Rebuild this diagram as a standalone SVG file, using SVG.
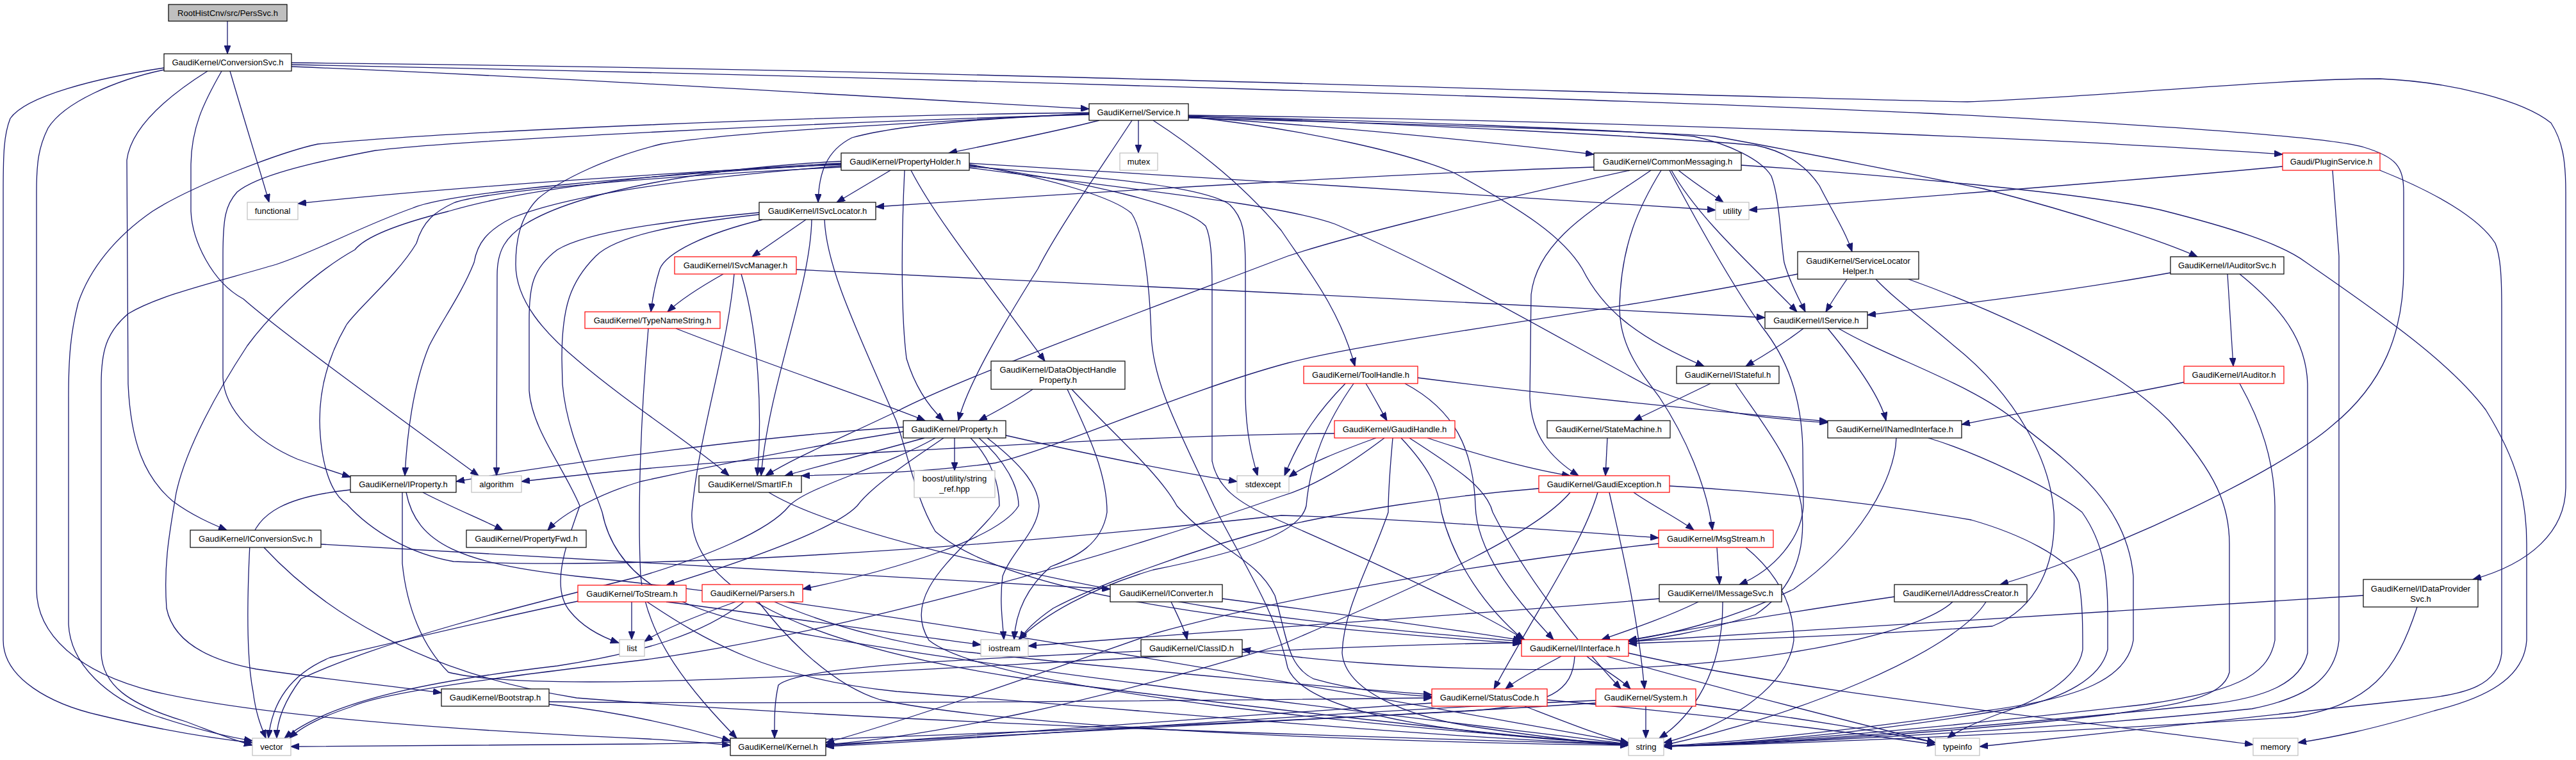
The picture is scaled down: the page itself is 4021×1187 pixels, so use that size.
<svg xmlns="http://www.w3.org/2000/svg" width="4021" height="1187" viewBox="0 0 4021 1187">
<style>
.n rect{fill:#fff;stroke:#000;stroke-width:1.2}
.n.r rect{stroke:#ff0000}
.n.g rect{stroke:#bfbfbf}
.n.root rect{fill:#bfbfbf}
text{font-family:"Liberation Sans",Arial,Helvetica,sans-serif;font-size:13px;text-anchor:middle;fill:#000}
#edges path{fill:none;stroke:#191970;stroke-width:1.3;marker-end:url(#ah)}
</style>
<defs>
<marker id="ah" markerUnits="userSpaceOnUse" markerWidth="14" markerHeight="10" refX="13" refY="5" orient="auto"><path d="M0,0 L13,5 L0,10 z" fill="#191970" stroke="#191970" stroke-width="1"/></marker>
</defs>
<rect width="4021" height="1187" fill="#fff"/>
<g id="edges">
<path d="M355,33 L355,84"/>
<path d="M455,104 C900,122 1300,148 1700,170"/>
<path d="M455,101 C1500,122 2600,158 3010,177 C3400,197 3640,215 3690,230 C3740,245 3752,260 3752,300 L3752,420 C3752,520 3720,600 3640,665 C3560,735 3300,860 3122,913"/>
<path d="M455,98 C1500,108 2600,150 3071,159 C3300,150 3550,123 3715,123 C3830,128 3940,158 3982,192 C4000,220 4005,250 4005,300 L4005,760 C4005,830 3950,880 3860,905"/>
<path d="M256,106 C150,122 40,150 16,185 C6,210 5,240 5,300 L5,1000 C5,1060 80,1100 155,1117 C250,1140 320,1152 394,1160"/>
<path d="M256,109 C180,125 100,160 75,200 C60,230 57,255 57,300 L57,920 C57,990 120,1050 240,1080 C400,1118 700,1140 1010,1154 C1060,1157 1100,1160 1140,1164"/>
<path d="M324,111 C270,145 205,195 198,250 L200,600 C204,690 225,745 270,783 C300,805 330,818 354,828"/>
<path d="M346,111 C318,160 298,200 298,260 L298,330 C300,375 330,440 380,467 C440,520 620,650 747,743"/>
<path d="M359,111 C385,200 410,280 420,316"/>
<path d="M1716,188 C1650,205 1550,225 1481,239"/>
<path d="M1777,188 L1777,239"/>
<path d="M1855,183 C2100,198 2350,225 2488,241"/>
<path d="M1855,180 C2500,188 3200,215 3563,241"/>
<path d="M1700,178 C1550,184 1400,195 1330,215 C1290,235 1278,270 1277,316"/>
<path d="M1855,181 C2200,194 2600,214 2741,227 C2790,237 2820,260 2840,290 C2860,330 2880,360 2891,393"/>
<path d="M1855,184 C2200,194 2550,204 2676,213 C2770,230 2900,255 3097,295 C3250,335 3380,378 3430,401"/>
<path d="M1855,182 C2200,189 2550,204 2644,213 C2700,225 2750,250 2765,275 C2778,310 2779,370 2785,410 C2795,445 2810,470 2818,487"/>
<path d="M1855,182 C2050,204 2200,240 2270,270 C2380,330 2440,370 2470,420 C2500,480 2550,525 2660,572"/>
<path d="M1800,188 C1880,240 1950,300 2000,360 C2040,420 2090,480 2115,572"/>
<path d="M1767,188 C1720,260 1650,360 1620,420 C1570,500 1510,600 1496,657"/>
<path d="M1700,177 C1400,194 1150,205 1032,225 C950,245 876,280 840,310 C810,340 805,380 805,413 C805,470 850,520 902,563 C980,630 1090,700 1138,743"/>
<path d="M1700,179 C1300,190 700,220 586,235 C480,255 400,275 370,300 C352,320 348,340 348,400 L348,590 C350,640 400,690 464,717 C500,730 525,738 547,745"/>
<path d="M1700,176 C1300,180 700,205 496,225 C440,237 300,290 238,330 C180,370 140,420 122,473 C110,520 107,560 107,620 L107,975 C110,1040 170,1090 240,1117 C300,1137 350,1150 394,1157"/>
<path d="M1390,266 L1306,316"/>
<path d="M1313,257 C1100,266 700,292 465,318"/>
<path d="M1513,255 C1800,270 2400,312 2678,328"/>
<path d="M1422,266 C1460,340 1540,440 1631,564"/>
<path d="M1412,266 C1408,350 1405,480 1415,560 C1430,610 1455,640 1473,657"/>
<path d="M1513,260 C1700,275 1880,290 1920,320 C1940,340 1944,360 1944,420 L1944,620 C1945,680 1955,715 1963,743"/>
<path d="M1513,262 C1800,300 2000,320 2084,350 C2250,420 2400,510 2580,607 C2680,650 2780,655 2853,660"/>
<path d="M1513,257 C1650,280 1740,310 1766,333 C1785,360 1795,450 1797,523 C1800,600 1840,670 1895,790 C1940,880 1990,950 2010,1043 C2040,1120 2300,1150 2542,1162"/>
<path d="M1513,258 C1700,285 1850,320 1882,353 C1890,370 1892,400 1892,450 L1892,720 C1900,760 1930,785 1990,810 C2150,880 2300,950 2380,999"/>
<path d="M1313,252 C1100,262 900,300 820,350 C790,370 776,390 776,430 L775,743"/>
<path d="M1313,256 C1000,275 700,300 644,325 C560,355 500,390 431,413 C340,440 250,460 200,490 C165,520 158,550 158,600 L158,1020 C160,1070 200,1100 290,1127 C330,1142 360,1155 394,1164"/>
<path d="M1313,259 C1100,276 900,300 800,340 C760,360 745,380 740,410 C720,460 690,500 670,540 C645,600 635,680 632,743"/>
<path d="M1313,255 C1000,270 800,300 700,330 C620,350 570,370 554,390 C500,420 430,480 386,540 C340,610 290,700 275,770 C265,830 255,880 260,950 C270,1000 320,1030 400,1045 C500,1060 600,1070 689,1082"/>
<path d="M1313,261 C1000,277 750,300 708,317 C680,330 660,345 650,380 C620,430 560,480 541,507 C510,560 499,610 499,657 C500,720 515,770 541,787 C580,830 640,865 708,877 C1000,890 1500,860 2000,805 C2200,810 2450,830 2589,840"/>
<path d="M2488,261 C2200,270 1700,300 1367,323"/>
<path d="M2620,266 C2650,290 2675,305 2690,316"/>
<path d="M2577,266 C2500,320 2400,370 2390,460 L2388,620 C2390,680 2420,715 2464,743"/>
<path d="M2593,266 C2560,320 2530,380 2528,480 C2528,540 2560,580 2590,620 C2630,680 2665,760 2673,828"/>
<path d="M2606,266 C2640,330 2700,440 2750,510 C2790,560 2812,620 2814,700 L2815,790 C2812,840 2770,890 2715,913"/>
<path d="M2609,266 C2650,340 2740,420 2805,487"/>
<path d="M2544,266 C2300,320 2100,370 2010,400 C1800,480 1500,590 1399,643 C1300,690 1240,715 1195,743"/>
<path d="M2718,258 C2900,270 3250,300 3373,328 C3480,355 3560,380 3600,410 C3700,480 3820,560 3880,640 C3930,720 3944,780 3944,850 L3944,1000 C3940,1060 3880,1090 3800,1110 C3700,1140 3640,1152 3587,1160"/>
<path d="M3563,260 C3300,285 2900,315 2730,328"/>
<path d="M3641,266 L3651,400 L3651,1000 C3645,1060 3600,1090 3515,1107 C3200,1140 2800,1160 2597,1166"/>
<path d="M3715,266 C3800,300 3870,340 3895,380 C3903,400 3905,430 3905,480 L3905,1020 C3900,1070 3850,1085 3773,1092 C3500,1120 3250,1150 3090,1166"/>
<path d="M1258,343 L1174,401"/>
<path d="M1190,343 C1100,365 1040,395 1030,420 C1022,445 1018,470 1016,487"/>
<path d="M1267,343 C1265,450 1200,600 1188,743"/>
<path d="M1185,332 C1050,345 920,360 870,390 C830,420 826,450 826,500 L826,610 C830,670 880,730 905,790 C880,860 860,920 890,955 C910,980 940,995 966,1004"/>
<path d="M1185,335 C1050,350 960,370 930,400 C890,440 877,480 877,560 L878,600 C885,680 920,740 940,800 C960,900 1050,950 1200,980 C1500,1040 2200,1120 2542,1162"/>
<path d="M1287,343 C1290,420 1340,520 1399,657 C1420,720 1430,780 1460,830 C1600,950 2100,985 2375,1005"/>
<path d="M1129,428 C1090,450 1060,470 1042,487"/>
<path d="M1157,428 C1185,520 1190,650 1182,743"/>
<path d="M1243,421 C1700,445 2300,470 2755,496"/>
<path d="M1146,428 C1135,550 1090,680 1080,800 C1075,900 1200,1000 1600,1060 C2000,1110 2350,1150 2542,1164"/>
<path d="M1055,513 C1200,570 1380,630 1444,657"/>
<path d="M1012,513 C1000,650 995,800 1000,900 C1010,1000 1080,1080 1150,1153"/>
<path d="M2883,436 C2870,455 2860,470 2850,487"/>
<path d="M2806,428 C2500,490 2150,530 2010,567 C1850,610 1650,700 1554,723 C1450,738 1320,741 1251,743"/>
<path d="M2928,436 C2960,470 3000,497 3050,540 C3150,620 3200,720 3206,800 C3210,880 3180,950 3110,978 C2950,990 2700,1000 2542,1005"/>
<path d="M2979,436 C3100,480 3290,560 3386,657 C3460,740 3480,790 3480,850 L3480,1050 C3470,1090 3400,1100 3300,1115 C3100,1140 2800,1160 2597,1166"/>
<path d="M3388,426 C3200,460 3000,482 2915,492"/>
<path d="M3477,428 L3486,572"/>
<path d="M3496,428 C3560,480 3600,530 3602,600 L3602,1020 C3590,1070 3530,1090 3450,1100 C3100,1135 2800,1160 2597,1166"/>
<path d="M2815,513 C2780,540 2745,560 2725,572"/>
<path d="M2853,513 C2900,570 2935,620 2944,657"/>
<path d="M2870,513 C2950,560 3080,600 3150,660 C3240,730 3320,790 3330,900 L3330,1000 C3320,1060 3250,1090 3100,1110 C2900,1140 2700,1160 2597,1165"/>
<path d="M2670,599 L2550,657"/>
<path d="M2709,599 C2750,660 2800,720 2812,790 C2820,860 2800,920 2740,960 C2650,990 2580,998 2542,1002"/>
<path d="M2509,684 L2506,743"/>
<path d="M2960,684 C2958,750 2900,850 2800,920 C2700,970 2600,992 2542,1000"/>
<path d="M3010,684 C3080,705 3200,760 3250,800 C3285,850 3290,900 3290,960 L3290,1014 C3280,1060 3220,1090 3150,1105 C2950,1140 2750,1160 2597,1166"/>
<path d="M3409,597 C3300,620 3150,645 3062,663"/>
<path d="M3496,599 C3530,660 3550,720 3551,790 L3551,1000 C3540,1060 3480,1080 3350,1100 C3000,1140 2750,1160 2597,1166"/>
<path d="M2132,599 C2145,620 2155,640 2165,657"/>
<path d="M2213,590 C2450,620 2700,645 2853,658"/>
<path d="M2100,599 C2060,640 2030,680 2005,743"/>
<path d="M2113,599 C2070,660 2045,720 2039,790 C2030,830 1950,860 1800,890 C1700,920 1630,960 1590,999"/>
<path d="M2193,599 C2270,640 2300,700 2303,790 C2305,860 2360,930 2425,999"/>
<path d="M2083,677 C1800,680 1500,700 1400,705 C1200,715 1000,730 814,752"/>
<path d="M2148,684 C2090,705 2040,725 2012,745"/>
<path d="M2228,684 C2320,715 2400,735 2451,743"/>
<path d="M2161,684 C2100,730 2050,760 2000,775 C1700,880 1300,990 1010,1030 C800,1055 600,1080 548,1104 C500,1120 470,1135 452,1153"/>
<path d="M2174,684 C2170,730 2167,760 2167,800 C2140,880 2097,950 2095,1020 C2100,1080 2200,1120 2300,1135 C2400,1150 2480,1160 2542,1164"/>
<path d="M2187,684 C2230,730 2245,760 2250,800 C2270,880 2320,950 2378,999"/>
<path d="M2200,684 C2270,730 2320,760 2330,800 C2380,900 2460,1000 2530,1076"/>
<path d="M1410,667 C1200,680 900,720 712,752"/>
<path d="M1410,674 C1250,700 1100,730 1000,752 C940,770 880,800 855,828"/>
<path d="M1443,684 C1350,710 1270,730 1225,743"/>
<path d="M1473,684 C1420,720 1360,760 1338,790 C1300,830 1150,880 1040,914"/>
<path d="M1490,684 L1490,735"/>
<path d="M1570,680 C1700,710 1850,740 1931,752"/>
<path d="M1528,684 C1570,720 1590,760 1590,790 C1560,840 1400,890 1253,920"/>
<path d="M1541,684 C1600,730 1620,760 1622,790 C1620,830 1580,860 1565,900 C1560,940 1565,970 1567,999"/>
<path d="M1515,684 C1550,720 1560,760 1560,790 C1520,850 1400,920 1450,1000 C1550,1080 2200,1140 2542,1162"/>
<path d="M1460,684 C1380,730 1260,760 1232,790 C1200,830 1100,870 1000,900 C800,950 600,1000 470,1060 C440,1100 432,1130 432,1153"/>
<path d="M1612,608 C1580,630 1550,645 1528,657"/>
<path d="M1666,608 C1700,680 1728,740 1728,800 C1720,850 1680,870 1640,885 C1600,920 1585,960 1583,999"/>
<path d="M1673,608 C1740,680 1810,740 1837,790 C1900,860 1960,870 1990,930 C2010,1000 2010,1040 2050,1060 C2120,1080 2190,1085 2235,1088"/>
<path d="M660,769 C700,790 760,815 785,828"/>
<path d="M547,765 C450,775 400,800 390,850 C385,950 385,1030 395,1080 C400,1120 410,1140 415,1153"/>
<path d="M628,769 L628,880 C635,950 660,1010 700,1050 C900,1100 1800,1010 2374,1004"/>
<path d="M634,769 C650,850 720,880 900,900 C1400,950 2200,1100 2542,1160"/>
<path d="M1200,769 C1300,830 1600,900 1900,950 C2100,980 2300,995 2375,1002"/>
<path d="M2550,769 C2580,790 2620,810 2644,828"/>
<path d="M2494,769 C2470,850 2400,950 2332,1076"/>
<path d="M2512,769 C2530,850 2555,950 2567,1076"/>
<path d="M2402,763 C2250,775 2100,800 2010,820 C1850,860 1700,920 1644,950 C1615,970 1600,985 1592,999"/>
<path d="M2451,769 C2400,830 2250,900 2000,1007 C1700,1100 1450,1150 1289,1163"/>
<path d="M2606,759 C2800,770 2950,790 3077,812 C3150,833 3230,870 3245,910 C3251,940 3251,980 3251,1014 C3245,1060 3180,1095 3120,1115 C3080,1130 3050,1145 3040,1153"/>
<path d="M501,850 C800,870 1300,895 1733,920"/>
<path d="M412,855 C500,950 650,1050 900,1090 C1400,1130 2100,1150 2542,1163"/>
<path d="M2680,855 L2684,913"/>
<path d="M2725,855 C2780,900 2800,950 2800,1000 C2790,1080 2680,1140 2597,1160"/>
<path d="M2589,849 C2300,880 2000,934 1800,990 C1600,1060 1400,1130 1289,1160"/>
<path d="M2590,935 C2300,960 1900,985 1605,1009"/>
<path d="M2651,940 C2600,965 2540,985 2500,999"/>
<path d="M2689,940 C2690,1050 2640,1120 2590,1153"/>
<path d="M2957,932 C2800,955 2650,980 2542,1000"/>
<path d="M3048,940 C3000,985 2800,1035 2500,1045 C2200,1050 2000,1025 1939,1014"/>
<path d="M3100,940 C3050,1020 2800,1120 2597,1164"/>
<path d="M3689,930 C3300,955 2800,985 2542,1002"/>
<path d="M3773,948 C3740,1050 3700,1100 3580,1120 C3200,1145 2800,1162 2597,1166"/>
<path d="M986,940 L986,999"/>
<path d="M902,939 C800,960 650,995 515,1027 C460,1050 425,1090 419,1153"/>
<path d="M1040,940 C1200,960 1400,990 1531,1007"/>
<path d="M1010,940 C1100,1000 1200,1060 1400,1080 C1800,1110 2200,1150 2542,1163"/>
<path d="M1148,940 C1080,965 1030,985 1006,1002"/>
<path d="M1161,940 C1100,990 1000,1020 870,1040 C700,1060 520,1090 444,1153"/>
<path d="M1184,940 C1230,1000 1300,1070 1374,1093 C1600,1140 2200,1160 2542,1164"/>
<path d="M1209,940 C1300,980 1420,1010 1515,1019 C1800,1050 2100,1075 2235,1085"/>
<path d="M1828,940 C1840,965 1850,985 1853,999"/>
<path d="M1908,935 C2100,960 2250,980 2375,1000"/>
<path d="M1781,1017 C1500,1030 1250,1040 1215,1070 C1208,1100 1209,1130 1209,1153"/>
<path d="M2437,1025 C2400,1045 2370,1060 2350,1076"/>
<path d="M2477,1025 C2500,1045 2530,1060 2545,1076"/>
<path d="M2508,1025 C2700,1080 2900,1130 3021,1160"/>
<path d="M2458,1025 C2455,1080 2420,1100 2300,1110 C1900,1130 1500,1150 1289,1163"/>
<path d="M2542,1020 C2800,1080 3200,1120 3517,1163"/>
<path d="M857,1100 C950,1110 1050,1130 1140,1157"/>
<path d="M857,1096 C1200,1100 1800,1095 2235,1090"/>
<path d="M2235,1098 C1900,1120 1500,1150 1289,1165"/>
<path d="M2415,1093 C2700,1120 2900,1145 3021,1163"/>
<path d="M2380,1103 C2450,1130 2500,1150 2542,1160"/>
<path d="M2569,1103 L2569,1153"/>
<path d="M2491,1094 C2100,1110 1600,1150 1289,1166"/>
<path d="M2647,1100 C2800,1120 2950,1145 3021,1160"/>
<path d="M2491,1098 C2000,1130 1200,1160 1000,1162 C700,1165 550,1165 454,1166"/>
</g>
<g id="n_PersSvc" class="n root"><rect x="263" y="7" width="185" height="26"/><text x="355.5" y="24.5">RootHistCnv/src/PersSvc.h</text></g>
<g id="n_ConversionSvc" class="n"><rect x="256" y="84" width="199" height="27"/><text x="355.5" y="102">GaudiKernel/ConversionSvc.h</text></g>
<g id="n_Service" class="n"><rect x="1700" y="162" width="155" height="26"/><text x="1777.5" y="179.5">GaudiKernel/Service.h</text></g>
<g id="n_functional" class="n g"><rect x="386" y="316" width="79" height="27"/><text x="425.5" y="334">functional</text></g>
<g id="n_PropertyHolder" class="n"><rect x="1313" y="239" width="200" height="27"/><text x="1413" y="257">GaudiKernel/PropertyHolder.h</text></g>
<g id="n_mutex" class="n g"><rect x="1748" y="239" width="59" height="27"/><text x="1777.5" y="257">mutex</text></g>
<g id="n_CommonMessaging" class="n"><rect x="2488" y="239" width="230" height="27"/><text x="2603" y="257">GaudiKernel/CommonMessaging.h</text></g>
<g id="n_PluginService" class="n r"><rect x="3563" y="239" width="152" height="27"/><text x="3639" y="257">Gaudi/PluginService.h</text></g>
<g id="n_utility" class="n g"><rect x="2678" y="316" width="52" height="27"/><text x="2704" y="334">utility</text></g>
<g id="n_ISvcLocator" class="n"><rect x="1185" y="316" width="182" height="27"/><text x="1276" y="334">GaudiKernel/ISvcLocator.h</text></g>
<g id="n_ServiceLocatorHelper" class="n"><rect x="2806" y="393" width="189" height="43"/><text x="2900.5" y="412">GaudiKernel/ServiceLocator</text><text x="2900.5" y="428">Helper.h</text></g>
<g id="n_IAuditorSvc" class="n"><rect x="3388" y="401" width="177" height="27"/><text x="3476.5" y="419">GaudiKernel/IAuditorSvc.h</text></g>
<g id="n_ISvcManager" class="n r"><rect x="1053" y="401" width="190" height="27"/><text x="1148" y="419">GaudiKernel/ISvcManager.h</text></g>
<g id="n_TypeNameString" class="n r"><rect x="913" y="487" width="211" height="26"/><text x="1018.5" y="504.5">GaudiKernel/TypeNameString.h</text></g>
<g id="n_IService" class="n"><rect x="2755" y="487" width="160" height="26"/><text x="2835" y="504.5">GaudiKernel/IService.h</text></g>
<g id="n_ToolHandle" class="n r"><rect x="2035" y="572" width="178" height="27"/><text x="2124" y="590">GaudiKernel/ToolHandle.h</text></g>
<g id="n_IStateful" class="n"><rect x="2617" y="572" width="160" height="27"/><text x="2697" y="590">GaudiKernel/IStateful.h</text></g>
<g id="n_IAuditor" class="n r"><rect x="3409" y="572" width="156" height="27"/><text x="3487" y="590">GaudiKernel/IAuditor.h</text></g>
<g id="n_DataObjectHandleProperty" class="n"><rect x="1547" y="564" width="209" height="44"/><text x="1651.5" y="582">GaudiKernel/DataObjectHandle</text><text x="1651.5" y="598">Property.h</text></g>
<g id="n_GaudiHandle" class="n r"><rect x="2083" y="657" width="188" height="27"/><text x="2177" y="675">GaudiKernel/GaudiHandle.h</text></g>
<g id="n_StateMachine" class="n"><rect x="2415" y="657" width="192" height="27"/><text x="2511" y="675">GaudiKernel/StateMachine.h</text></g>
<g id="n_INamedInterface" class="n"><rect x="2853" y="657" width="209" height="27"/><text x="2957.5" y="675">GaudiKernel/INamedInterface.h</text></g>
<g id="n_Property" class="n"><rect x="1410" y="657" width="160" height="27"/><text x="1490" y="675">GaudiKernel/Property.h</text></g>
<g id="n_IProperty" class="n"><rect x="547" y="743" width="165" height="26"/><text x="629.5" y="760.5">GaudiKernel/IProperty.h</text></g>
<g id="n_algorithm" class="n g"><rect x="736" y="743" width="78" height="26"/><text x="775" y="760.5">algorithm</text></g>
<g id="n_SmartIF" class="n"><rect x="1091" y="743" width="160" height="26"/><text x="1171" y="760.5">GaudiKernel/SmartIF.h</text></g>
<g id="n_string_ref" class="n g"><rect x="1427" y="735" width="126" height="42"/><text x="1490" y="752">boost/utility/string</text><text x="1490" y="768">_ref.hpp</text></g>
<g id="n_stdexcept" class="n g"><rect x="1931" y="743" width="81" height="26"/><text x="1971.5" y="760.5">stdexcept</text></g>
<g id="n_GaudiException" class="n r"><rect x="2402" y="743" width="204" height="26"/><text x="2504" y="760.5">GaudiKernel/GaudiException.h</text></g>
<g id="n_IConversionSvc" class="n"><rect x="297" y="828" width="204" height="27"/><text x="399" y="846">GaudiKernel/IConversionSvc.h</text></g>
<g id="n_PropertyFwd" class="n"><rect x="728" y="828" width="187" height="27"/><text x="821.5" y="846">GaudiKernel/PropertyFwd.h</text></g>
<g id="n_MsgStream" class="n r"><rect x="2589" y="828" width="179" height="27"/><text x="2678.5" y="846">GaudiKernel/MsgStream.h</text></g>
<g id="n_ToStream" class="n r"><rect x="902" y="914" width="169" height="26"/><text x="986.5" y="931.5">GaudiKernel/ToStream.h</text></g>
<g id="n_Parsers" class="n r"><rect x="1096" y="913" width="157" height="27"/><text x="1174.5" y="931">GaudiKernel/Parsers.h</text></g>
<g id="n_IConverter" class="n"><rect x="1733" y="913" width="175" height="27"/><text x="1820.5" y="931">GaudiKernel/IConverter.h</text></g>
<g id="n_IMessageSvc" class="n"><rect x="2590" y="913" width="191" height="27"/><text x="2685.5" y="931">GaudiKernel/IMessageSvc.h</text></g>
<g id="n_IAddressCreator" class="n"><rect x="2957" y="913" width="207" height="27"/><text x="3060.5" y="931">GaudiKernel/IAddressCreator.h</text></g>
<g id="n_IDataProviderSvc" class="n"><rect x="3689" y="905" width="179" height="43"/><text x="3778.5" y="924">GaudiKernel/IDataProvider</text><text x="3778.5" y="940">Svc.h</text></g>
<g id="n_list" class="n g"><rect x="967" y="999" width="39" height="26"/><text x="986.5" y="1016.5">list</text></g>
<g id="n_iostream" class="n g"><rect x="1531" y="999" width="74" height="26"/><text x="1568" y="1016.5">iostream</text></g>
<g id="n_ClassID" class="n"><rect x="1781" y="999" width="158" height="26"/><text x="1860" y="1016.5">GaudiKernel/ClassID.h</text></g>
<g id="n_IInterface" class="n r"><rect x="2375" y="999" width="167" height="26"/><text x="2458.5" y="1016.5">GaudiKernel/IInterface.h</text></g>
<g id="n_Bootstrap" class="n"><rect x="689" y="1076" width="168" height="27"/><text x="773" y="1094">GaudiKernel/Bootstrap.h</text></g>
<g id="n_StatusCode" class="n r"><rect x="2235" y="1076" width="180" height="27"/><text x="2325" y="1094">GaudiKernel/StatusCode.h</text></g>
<g id="n_System" class="n r"><rect x="2491" y="1076" width="156" height="27"/><text x="2569" y="1094">GaudiKernel/System.h</text></g>
<g id="n_vector" class="n g"><rect x="394" y="1153" width="60" height="27"/><text x="424" y="1171">vector</text></g>
<g id="n_Kernel" class="n"><rect x="1140" y="1153" width="149" height="27"/><text x="1214.5" y="1171">GaudiKernel/Kernel.h</text></g>
<g id="n_string" class="n g"><rect x="2542" y="1153" width="55" height="27"/><text x="2569.5" y="1171">string</text></g>
<g id="n_typeinfo" class="n g"><rect x="3021" y="1153" width="69" height="27"/><text x="3055.5" y="1171">typeinfo</text></g>
<g id="n_memory" class="n g"><rect x="3517" y="1153" width="70" height="27"/><text x="3552" y="1171">memory</text></g>
</svg>
